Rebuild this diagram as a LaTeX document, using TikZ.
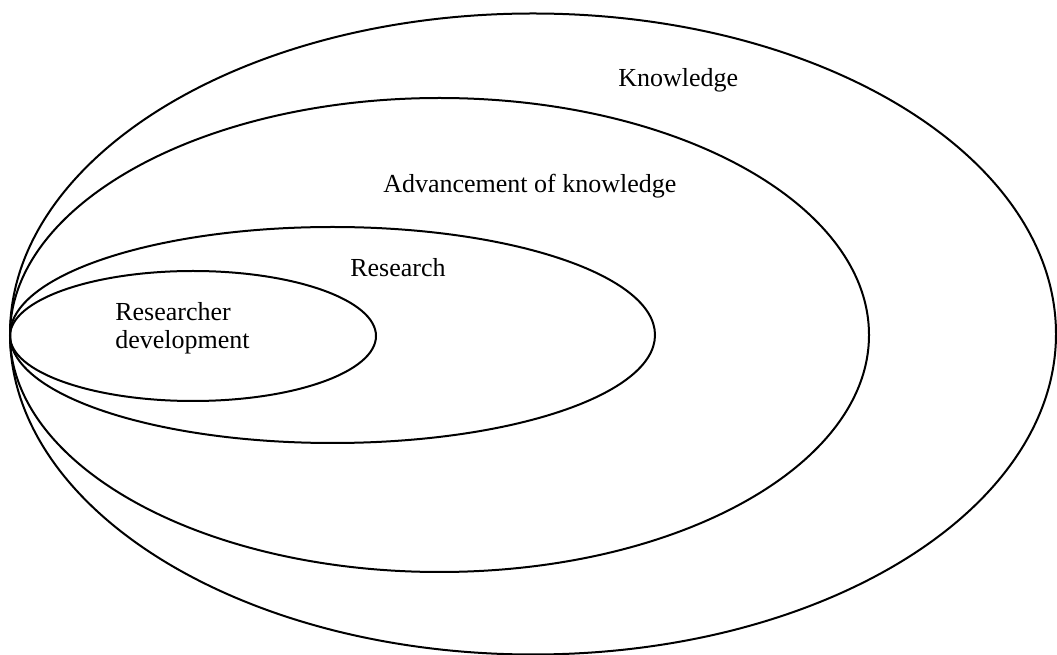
\documentclass[tikz,border=0pt]{standalone}
\usepackage{fontspec}
\setmainfont{Liberation Serif}
\usetikzlibrary{shapes.geometric}
\tikzset{
  ring/.style={draw, ellipse, inner sep=0pt, line width=1.5pt},
  lbl/.style={inner sep=0pt, anchor=base west, font=\fontsize{19.5pt}{21pt}\selectfont},
}
\begin{document}
\begin{tikzpicture}[x=0.75pt, y=-0.75pt]
\useasboundingbox (0,0) rectangle (1057,655);
\node[ring, minimum width=1046*0.75pt, minimum height=641*0.75pt] (know) at (533,334) {};
\node[ring, minimum width=859*0.75pt, minimum height=474*0.75pt] (adv) at (439.5,335) {};
\node[ring, minimum width=645*0.75pt, minimum height=216*0.75pt] (res) at (332.5,335) {};
\node[ring, minimum width=366*0.75pt, minimum height=130*0.75pt] (dev) at (193,336) {};
\node[lbl] (tknow) at (618,87) {Knowledge};
\node[lbl] (tadv) at (383,193) {Advancement of knowledge};
\node[lbl] (tres) at (350,277) {Research};
\node[lbl] (tdev1) at (115,321) {Researcher};
\node[lbl] (tdev2) at (115,349) {development};
\end{tikzpicture}
\end{document}
